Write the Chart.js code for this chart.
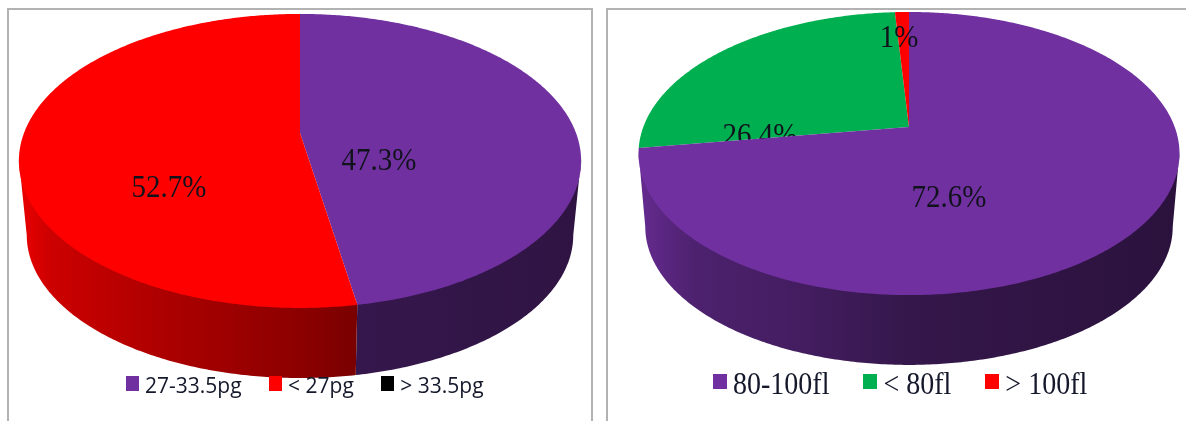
<!DOCTYPE html>
<html>
<head>
<meta charset="utf-8">
<script src="https://cdn.jsdelivr.net/npm/chart.js@4/dist/chart.umd.min.js"></script>
<style>
  html, body { margin: 0; padding: 0; background: #fff; }
  #page { position: relative; width: 1186px; height: 421px; overflow: hidden; }
  .panel { position: absolute; top: 8px; height: 420px; box-sizing: border-box; border: 2px solid #b2b2b2; background: #fff; }
  canvas { position: absolute; top: 0; }
  .legend { position: absolute; display: flex; align-items: center; color: #14182a; white-space: nowrap; }
  .legend span.item { display: flex; align-items: center; }
  .legend i { display: block; }
  .legend b { display: block; font-weight: normal; transform-origin: 50% 55%; }
</style>
</head>
<body>
<div id="page">
  <div class="panel" style="left:7px;width:586px"></div>
  <div class="panel" style="left:606px;width:600px"></div>
  <canvas id="mchChart" width="593" height="421" style="left:7px"></canvas>
  <canvas id="mcvChart" width="586" height="421" style="left:600px"></canvas>
  <div id="mchLegend" class="legend"></div>
  <div id="mcvLegend" class="legend"></div>
</div>
<script>
const mchCategories = ['27-33.5pg', '< 27pg', '> 33.5pg']
const mchValues = [47.3, 52.7, 0]
const mchLabels = ['47.3%', '52.7%', '']
const mchColors = ['#7030A0', '#FF0000', '#000000']

const mcvCategories = ['80-100fl', '< 80fl', '> 100fl']
const mcvValues = [72.6, 26.4, 1]
const mcvLabels = ['72.6%', '26.4%', '1%']
const mcvColors = ['#7030A0', '#00B050', '#FF0000']

// shade of a slice colour, f is 0..1
function shade(hex, f){
    let r = parseInt(hex.slice(1, 3), 16)
    let g = parseInt(hex.slice(3, 5), 16)
    let b = parseInt(hex.slice(5, 7), 16)
    return `rgb(${Math.round(r * f)}, ${Math.round(g * f)}, ${Math.round(b * f)})`
}

// Circle -> tilted disc. Near edge gets bigger than far edge, so the pie centre
// sits above the middle of the ellipse.
function project(t, angle, lower){
    let u = Math.cos(angle)
    let v = Math.sin(angle)
    let grow = lower ? t.shrink : 1
    let w = 1 - t.k * v
    return {
        x: t.cx + grow * t.a * u / w,
        y: t.cy + (lower ? t.depth : 0) + grow * t.b * v / w
    }
}

function rim(ctx, t, from, to, lower, lift){
    let steps = Math.max(2, Math.ceil(Math.abs(to - from) / 0.01))
    for (let i = 0; i <= steps; i++){
        let p = project(t, from + (to - from) * i / steps, lower)
        ctx.lineTo(p.x, p.y - lift)
    }
}

// side wall, only the part facing the viewer. It starts 2px up so no seam
// shows under the edge of the top face.
function drawWall(ctx, t, arc, color){
    let edge = Math.asin(t.k)
    let from = Math.max(arc.startAngle, edge)
    let to = Math.min(arc.endAngle, Math.PI - edge)
    if (to <= from) return
    let g = ctx.createLinearGradient(t.cx - t.a, 0, t.cx + t.a, 0)
    t.wallShade.forEach(s => g.addColorStop(s[0], shade(color, s[1])))
    ctx.beginPath()
    rim(ctx, t, from, to, false, 2)
    rim(ctx, t, to, from, true, 0)
    ctx.closePath()
    ctx.fillStyle = g
    ctx.fill()
}

const tiltedPie = {
    id: 'tiltedPie',
    // the arcs are laid out by Chart.js, only their painting is replaced
    beforeDatasetDraw(chart, args, opts){
        let ctx = chart.ctx
        let arcs = chart.getDatasetMeta(0).data
        let colors = chart.data.datasets[0].backgroundColor
        let t = opts.tilt
        ctx.save()

        arcs.forEach((arc, i) => drawWall(ctx, t, arc, colors[i]))

        // a later slice can hide the label of an earlier one
        opts.paintOrder.forEach(i => {
            let arc = arcs[i]
            ctx.beginPath()
            ctx.moveTo(t.cx, t.cy)
            rim(ctx, t, arc.startAngle, arc.endAngle, false, 0)
            ctx.closePath()
            ctx.fillStyle = colors[i]
            ctx.fill()

            let pos = opts.labelPos[i]
            ctx.save()
            ctx.translate(pos[0], pos[1])
            ctx.scale(1, 1.1)
            ctx.fillStyle = '#10121c'
            ctx.font = opts.labelFont
            ctx.textAlign = 'center'
            ctx.textBaseline = 'middle'
            ctx.fillText(opts.labels[i], 0, 0)
            ctx.restore()
        })
        ctx.restore()
        return false
    }
}

function makePie(id, categories, values, colors, labels, tilt, paintOrder, labelPos){
    return new Chart(id, {
        type: 'pie',
        data: {
            labels: categories,
            datasets: [{ data: values, backgroundColor: colors, borderWidth: 0 }]
        },
        options: {
            responsive: false,
            animation: false,
            plugins: {
                legend: { display: false },
                tooltip: { enabled: false },
                tiltedPie: {
                    tilt: tilt,
                    paintOrder: paintOrder,
                    labels: labels,
                    labelPos: labelPos,
                    labelFont: '29px "Liberation Serif"'
                }
            }
        },
        plugins: [tiltedPie]
    })
}

// legend as plain html, spacing of the swatches is fixed per chart
function fillLegend(id, chart, style){
    let box = document.getElementById(id)
    box.style.left = style.left + 'px'
    box.style.top = style.top + 'px'
    box.style.font = style.font
    box.style.gap = style.gap + 'px'
    chart.data.labels.forEach((name, i) => {
        let item = document.createElement('span')
        item.className = 'item'
        let swatch = document.createElement('i')
        swatch.style.width = style.swatch[0] + 'px'
        swatch.style.height = style.swatch[1] + 'px'
        swatch.style.marginRight = '6px'
        swatch.style.marginTop = style.swatchShift + 'px'
        swatch.style.background = chart.data.datasets[0].backgroundColor[i]
        let text = document.createElement('b')
        text.style.transform = `scaleY(${style.stretch})`
        text.textContent = name
        item.appendChild(swatch)
        item.appendChild(text)
        box.appendChild(item)
    })
}

const mchChart = makePie('mchChart', mchCategories, mchValues, mchColors, mchLabels,
    { cx: 293, cy: 133, a: 276, b: 141.7, k: 0.19, depth: 75, shrink: 0.972,
      wallShade: [[0, 0.9], [0.05, 0.8], [0.25, 0.68], [0.5, 0.55], [0.6, 0.48], [1, 0.42]] },
    [0, 1],
    [[372, 162], [162, 189]])

const mcvChart = makePie('mcvChart', mcvCategories, mcvValues, mcvColors, mcvLabels,
    { cx: 309, cy: 127, a: 265.7, b: 136.6, k: 0.1874, depth: 74, shrink: 0.975,
      wallShade: [[0, 0.88], [0.1, 0.69], [0.3, 0.6], [0.5, 0.47], [1, 0.38]] },
    [1, 0, 2],
    [[349, 199], [160, 137], [299, 39]])

fillLegend('mchLegend', mchChart, { left: 126, top: 371, font: '21px "Open Sans"', gap: 27.5, swatch: [13, 15], swatchShift: -3, stretch: 1 })
fillLegend('mcvLegend', mcvChart, { left: 713, top: 368, font: '28px "Liberation Serif"', gap: 34, swatch: [14, 15], swatchShift: -6, stretch: 1.12 })
</script>
</body>
</html>
